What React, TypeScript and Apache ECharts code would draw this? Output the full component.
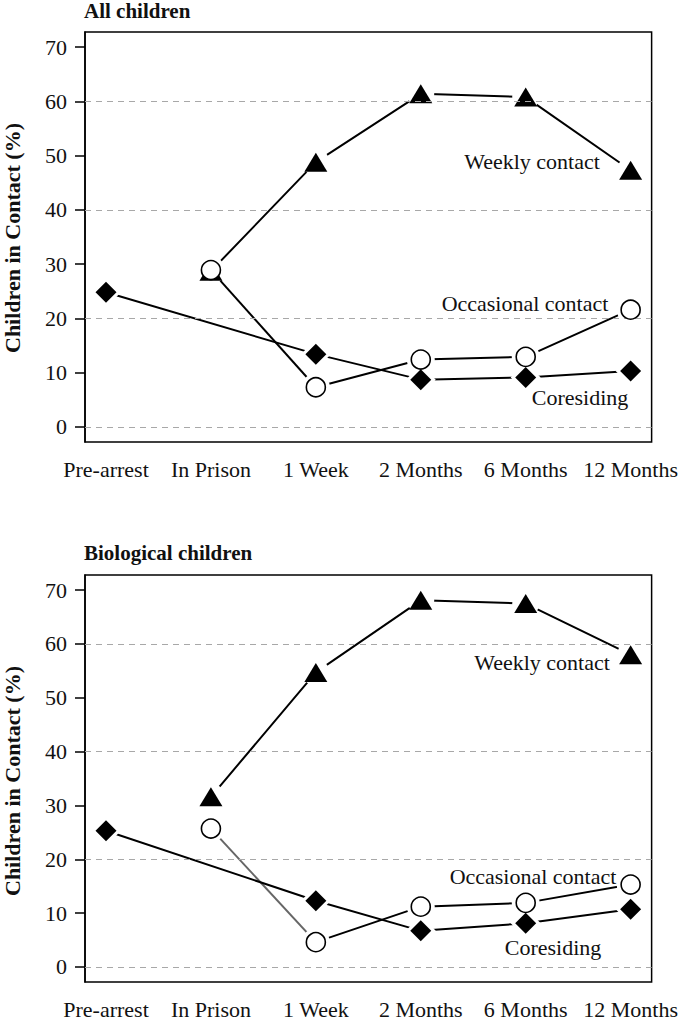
import React, { useEffect, useRef } from "react";
import * as echarts from "echarts";

const categories = ["Pre-arrest", "In Prison", "1 Week", "2 Months", "6 Months", "12 Months"];
const yTicks = [0, 10, 20, 30, 40, 50, 60, 70];
const gridValues = [0, 20, 40, 60];

const allWeekly = [null, 28.7, 48.8, 61.4, 60.8, 47.3];
const allOccasional = [null, 28.9, 7.3, 12.4, 12.9, 21.6];
const allCoresiding = [24.8, null, 13.4, 8.7, 9.1, 10.3];

const bioWeekly = [null, 31.6, 54.7, 68.1, 67.5, 58.0];
const bioOccasional = [null, 25.7, 4.6, 11.2, 11.9, 15.3];
const bioCoresiding = [25.3, null, 12.3, 6.7, 8.1, 10.7];

const panelTitles = ["All children", "Biological children"];
const seriesNames = ["Weekly contact", "Occasional contact", "Coresiding"];

const FONT = "Liberation Serif";

type Num = number | null;
const toPairs = (arr: Num[]) =>
  arr.map((v, i) => (v == null ? null : [i + 1, v])).filter((p) => p !== null) as number[][];

export default function App() {
  const ref = useRef<HTMLDivElement>(null);

  useEffect(() => {
    if (!ref.current) return;
    const chart = echarts.init(ref.current, undefined, { renderer: "svg" });

    const panels = [
      { weekly: allWeekly, occ: allOccasional, cor: allCoresiding, linkColor: "#000" },
      { weekly: bioWeekly, occ: bioOccasional, cor: bioCoresiding, linkColor: "#666" },
    ];

    const grids = [
      { left: 85, top: 32, right: 28, height: 410 },
      { left: 85, top: 575, right: 28, height: 411 },
    ];

    const markerStyles = [
      { symbol: "triangle", size: [23, 19] },
      { symbol: "circle", size: 19 },
      { symbol: "diamond", size: [21, 21] },
    ];

    const series: any[] = [];
    panels.forEach((p, gi) => {
      const lists = [p.weekly, p.occ, p.cor];
      lists.forEach((arr, si) => {
        const pairs = toPairs(arr);
        const isOcc = si === 1;
        series.push({
          type: "line",
          name: seriesNames[si],
          xAxisIndex: gi,
          yAxisIndex: gi,
          data: isOcc ? pairs.slice(1) : pairs,
          showSymbol: false,
          symbol: "none",
          lineStyle: { color: "#000", width: 2 },
          z: 2,
          silent: true,
          ...(si === 2
            ? {
                markLine: {
                  silent: true,
                  symbol: "none",
                  label: { show: false },
                  lineStyle: { type: [6, 5], color: "#a8a8a8", width: 1.2 },
                  data: gridValues.map((v) => ({ yAxis: v })),
                },
              }
            : {}),
        });
        if (isOcc) {
          series.push({
            type: "line",
            xAxisIndex: gi,
            yAxisIndex: gi,
            data: pairs.slice(0, 2),
            showSymbol: false,
            symbol: "none",
            lineStyle: { color: p.linkColor, width: 2 },
            z: 2,
            silent: true,
          });
        }
      });
      lists.forEach((arr, si) => {
        const ms = markerStyles[si];
        const size = Array.isArray(ms.size) ? ms.size.map((s: number) => s + 9) : (ms.size as number) + 9;
        series.push({
          type: "scatter",
          xAxisIndex: gi,
          yAxisIndex: gi,
          data: toPairs(arr),
          symbol: si === 0 ? "circle" : ms.symbol,
          symbolSize: si === 0 ? 27 : size,
          itemStyle: { color: "#fff", opacity: 1 },
          z: 3,
          silent: true,
        });
      });
      lists.forEach((arr, si) => {
        const ms = markerStyles[si];
        series.push({
          type: "scatter",
          name: seriesNames[si],
          xAxisIndex: gi,
          yAxisIndex: gi,
          data: toPairs(arr),
          symbol: ms.symbol,
          symbolSize: ms.size,
          itemStyle:
            si === 1
              ? { color: "#fff", borderColor: "#000", borderWidth: 1.6, opacity: 1 }
              : { color: "#000", opacity: 1 },
          z: 4 + si,
          silent: true,
        });
      });
    });

    const labelStyle = { fontFamily: FONT, fontSize: 22, color: "#111" };
    const txt = (x: number, y: number, text: string, extra: any = {}) => ({
      type: "text",
      x,
      y,
      ...extra,
      style: {
        text,
        align: "center",
        verticalAlign: "middle",
        fontFamily: FONT,
        fontSize: 22,
        fontWeight: extra.bold ? "bold" : "normal",
        fill: "#111",
      },
    });

    const option: any = {
      animation: false,
      backgroundColor: "#fff",
      title: panelTitles.map((t, i) => ({
        text: t,
        left: 84,
        top: i === 0 ? 0 : 542,
        padding: 0,
        textStyle: { fontFamily: FONT, fontSize: 21, fontWeight: "bold", color: "#111" },
      })),
      grid: grids.map((g) => ({ ...g, show: true, borderColor: "#000", borderWidth: 1.5, backgroundColor: "transparent" })),
      xAxis: grids.map((_, gi) => ({
        gridIndex: gi,
        type: "value",
        min: 0.8,
        max: 6.2,
        axisLine: { show: false },
        axisTick: { show: false },
        splitLine: { show: false },
        axisLabel: {
          customValues: categories.map((_, i) => i + 1),
          formatter: (v: number) => categories[Math.round(v) - 1] ?? "",
          ...labelStyle,
          margin: 16,
        },
      })),
      yAxis: grids.map((_, gi) => ({
        gridIndex: gi,
        type: "value",
        min: -2.8,
        max: 72.8,
        axisLine: { show: true, lineStyle: { color: "#000", width: 1.5 } },
        axisTick: { show: true, customValues: yTicks, length: 10, lineStyle: { color: "#000", width: 1.5 } },
        splitLine: { show: false },
        axisLabel: {
          customValues: yTicks,
          ...labelStyle,
          margin: 18,
        },
      })),
      series,
      graphic: [
        { ...txt(12, 238, "Children in Contact (%)", { bold: true }), rotation: Math.PI / 2 },
        { ...txt(12, 781, "Children in Contact (%)", { bold: true }), rotation: Math.PI / 2 },
        txt(532, 161, "Weekly contact"),
        txt(525, 303, "Occasional contact"),
        txt(580, 397, "Coresiding"),
        txt(542, 662, "Weekly contact"),
        txt(533, 876, "Occasional contact"),
        txt(553, 947, "Coresiding"),
      ],
    };

    chart.setOption(option);
    return () => chart.dispose();
  }, []);

  return (
    <div
      ref={ref}
      style={{ position: "fixed", left: 0, top: 0, width: 681, height: 1020, background: "#fff" }}
    />
  );
}
